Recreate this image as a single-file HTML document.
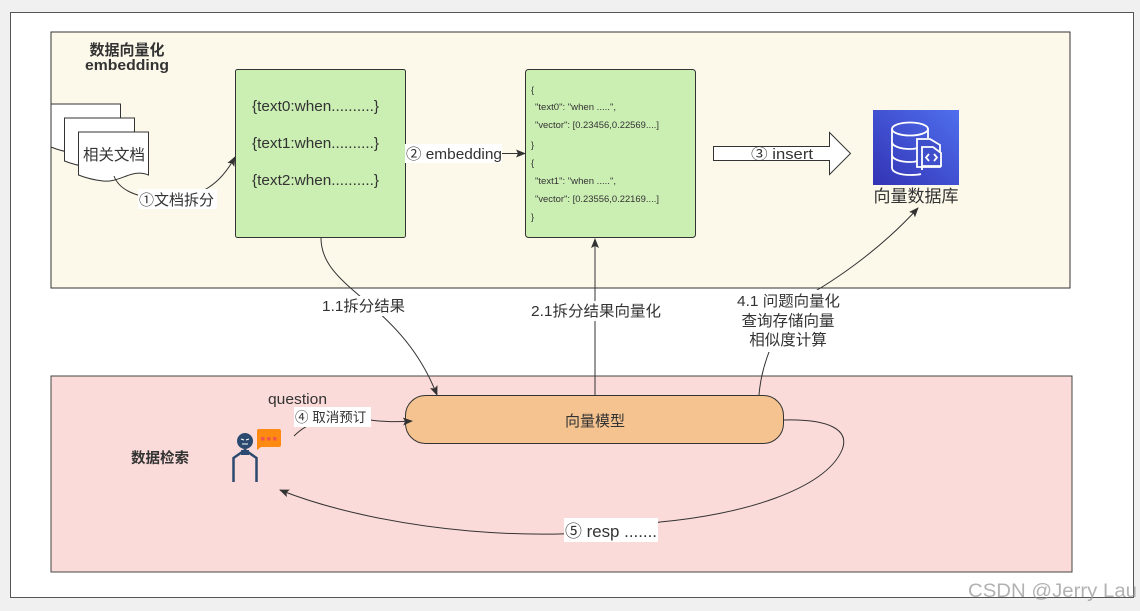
<!DOCTYPE html>
<html>
<head>
<meta charset="utf-8">
<style>
html,body{margin:0;padding:0;background:#f0f0f0;width:1140px;height:611px;overflow:hidden}
svg{display:block}
text{font-family:"Liberation Sans","Noto Sans CJK SC",sans-serif;fill:#333}
</style>
</head>
<body>
<svg width="1140" height="611" viewBox="0 0 1140 611" xmlns="http://www.w3.org/2000/svg">
<defs>
<marker id="a" markerWidth="10" markerHeight="8" refX="9" refY="4" orient="auto" markerUnits="userSpaceOnUse"><path d="M0 0L10 4L0 8L2 4Z" fill="#333"/></marker>
<linearGradient id="g" x1="0" y1="1" x2="1" y2="0"><stop offset="0" stop-color="#3233b4"/><stop offset="1" stop-color="#4f6fee"/></linearGradient>
</defs>
<rect x="0" y="0" width="1140" height="611" fill="#f0f0f0"/>
<rect x="10.500" y="12.500" width="1123" height="585" fill="#fff" stroke="#555"/>
<rect x="51" y="32" width="1019" height="256" fill="#fdf9ea" stroke="#333"/>
<rect x="51" y="376" width="1021" height="196" fill="#fadbd9" stroke="#444"/>

<text x="127" y="55" font-size="15" font-weight="bold" text-anchor="middle">数据向量化</text>
<text x="127" y="70" font-size="15" font-weight="bold" text-anchor="middle" textLength="84" lengthAdjust="spacingAndGlyphs">embedding</text>

<!-- documents -->
<path d="M51 104H120.500V146C104 140 92 156 75 153C66 152 58 150 51 147Z" fill="#fff" stroke="#333"/>
<path d="M64.500 118H134.500V160C118 154 106 170 89 167C80 166 72 164 64.500 161Z" fill="#fff" stroke="#333"/>
<path d="M78.500 132H148.500V175C132 168 120 183 103 181C94 180 86 178 78.500 175Z" fill="#fff" stroke="#333"/>
<text x="114" y="160" font-size="15.500" text-anchor="middle">相关文档</text>

<!-- edge 1 -->
<path d="M114 176C120 192 140 198 165 199C200 198 220 185 235 157" fill="none" stroke="#333" marker-end="url(#a)"/>
<rect x="138" y="189" width="79" height="20" fill="#fff"/>
<text x="139" y="205" font-size="15">①文档拆分</text>

<!-- green boxes -->
<rect x="235.500" y="69.500" width="170" height="168" rx="2" fill="#cbeeb3" stroke="#333"/>
<text x="252" y="111" font-size="15" textLength="127" lengthAdjust="spacingAndGlyphs">{text0:when..........}</text>
<text x="252" y="148" font-size="15" textLength="127" lengthAdjust="spacingAndGlyphs">{text1:when..........}</text>
<text x="252" y="185" font-size="15" textLength="127" lengthAdjust="spacingAndGlyphs">{text2:when..........}</text>

<rect x="525.500" y="69.500" width="170" height="168" rx="3" fill="#cbeeb3" stroke="#333"/>
<g font-size="9.300">
<text x="531" y="93">{</text>
<text x="535" y="110" textLength="81" lengthAdjust="spacingAndGlyphs">"text0": "when .....",</text>
<text x="535" y="128" textLength="124" lengthAdjust="spacingAndGlyphs">"vector": [0.23456,0.22569....]</text>
<text x="531" y="148">}</text>
<text x="531" y="166">{</text>
<text x="535" y="184" textLength="81" lengthAdjust="spacingAndGlyphs">"text1": "when .....",</text>
<text x="535" y="202" textLength="124" lengthAdjust="spacingAndGlyphs">"vector": [0.23556,0.22169....]</text>
<text x="531" y="220">}</text>
</g>

<!-- edge 2 -->
<path d="M405 153.500H525" fill="none" stroke="#333" marker-end="url(#a)"/>
<rect x="405" y="144" width="97" height="19" fill="#fff"/>
<text x="406" y="159" font-size="15" textLength="96" lengthAdjust="spacingAndGlyphs">② embedding</text>

<!-- block arrow -->
<path d="M713.500 146.500H829.500V132.500L850.500 153.500L829.500 174.500V160.500H713.500Z" fill="#fff" stroke="#333"/>
<text x="751" y="159" font-size="15" textLength="62" lengthAdjust="spacingAndGlyphs">③ insert</text>

<!-- db icon -->
<rect x="873" y="110" width="86" height="75" fill="url(#g)"/>
<g fill="none" stroke="#fff" stroke-width="1.800">
<ellipse cx="910" cy="129" rx="18" ry="6.500"/>
<path d="M892 129V168C892 172 900 175 910 175C914 175 918 175 921 174"/>
<path d="M928 129V138"/>
<path d="M892 142C892 146 900 149 910 149C912 149 915 149 917 148"/>
<path d="M892 155C892 159 900 162 910 162C912 162 915 162 917 161"/>
<path d="M917 167V139H930L940 145V167Z" fill="#3f4fcb"/>
<path d="M922 167V144H933L941 150V163H922Z" fill="#3f4fcb" transform="translate(0,3)"/>
<path d="M929 154L926 157.500L929 161M934 154L937 157.500L934 161"/>
</g>
<text x="916" y="202" font-size="17" text-anchor="middle">向量数据库</text>

<!-- lower connectors -->
<path d="M321 237C320 290 400 300 437 395" fill="none" stroke="#333" marker-end="url(#a)"/>
<rect x="320" y="296" width="87" height="20" fill="#fff"/>
<text x="322" y="311" font-size="15" textLength="83" lengthAdjust="spacingAndGlyphs">1.1拆分结果</text>

<path d="M595 395V239" fill="none" stroke="#333" marker-end="url(#a)"/>
<rect x="530" y="301" width="132" height="20" fill="#fff"/>
<text x="531" y="316" font-size="15" textLength="130" lengthAdjust="spacingAndGlyphs">2.1拆分结果向量化</text>

<path d="M759 395C761 370 768 350 790 305C830 285 880 250 918 208" fill="none" stroke="#333" marker-end="url(#a)"/>
<rect x="733" y="290" width="110" height="62" fill="#fff"/>
<text x="737" y="306" font-size="15" textLength="103" lengthAdjust="spacingAndGlyphs">4.1 问题向量化</text>
<text x="788" y="326" font-size="15.500" text-anchor="middle">查询存储向量</text>
<text x="788" y="345" font-size="15.500" text-anchor="middle">相似度计算</text>

<!-- model -->
<rect x="405.500" y="395.500" width="378" height="48" rx="20" fill="#f5c38f" stroke="#333"/>
<text x="595" y="426" font-size="15" text-anchor="middle">向量模型</text>

<text x="268" y="404" font-size="15" textLength="59" lengthAdjust="spacingAndGlyphs">question</text>

<path d="M294 436C310 420 330 415 370 420C385 422 395 422 412 421" fill="none" stroke="#333" marker-end="url(#a)"/>
<rect x="294" y="407" width="77" height="20" fill="#fff"/>
<text x="295" y="422" font-size="13.500">④ 取消预订</text>

<!-- return -->
<path d="M784 420C830 419 850 430 842 450C825 490 740 515 660 522C600 536 530 536 470 531C400 525 330 510 280 490" fill="none" stroke="#333" marker-end="url(#a)"/>
<rect x="564" y="518" width="94" height="24" fill="#fff"/>
<text x="565" y="537" font-size="17" textLength="92" lengthAdjust="spacingAndGlyphs">⑤ resp .......</text>

<!-- person -->
<circle cx="245" cy="441" r="8" fill="#2c4a70"/>
<path d="M241 450h8v5h-8z" fill="#2c4a70"/>
<path d="M241 439l3 1M249 439l-3 1M242 444h6" stroke="#fff" stroke-width="1"/>
<path d="M233.500 482V458L245 450L256.500 458V482" fill="none" stroke="#2c4a70" stroke-width="2.500"/>
<path d="M259 429H279Q281 429 281 431V445Q281 447 279 447H261L257 450V431Q257 429 259 429Z" fill="#ff8a12"/>
<rect x="261" y="437" width="3.500" height="3.500" fill="#f2554a"/>
<rect x="267" y="437" width="3.500" height="3.500" fill="#f2554a"/>
<rect x="273" y="437" width="3.500" height="3.500" fill="#f2554a"/>

<text x="160" y="463" font-size="14.500" font-weight="bold" text-anchor="middle">数据检索</text>

<text x="968" y="597" font-size="19" textLength="169" lengthAdjust="spacingAndGlyphs" style="fill:#999;opacity:.75">CSDN @Jerry Lau</text>
</svg>
</body>
</html>
